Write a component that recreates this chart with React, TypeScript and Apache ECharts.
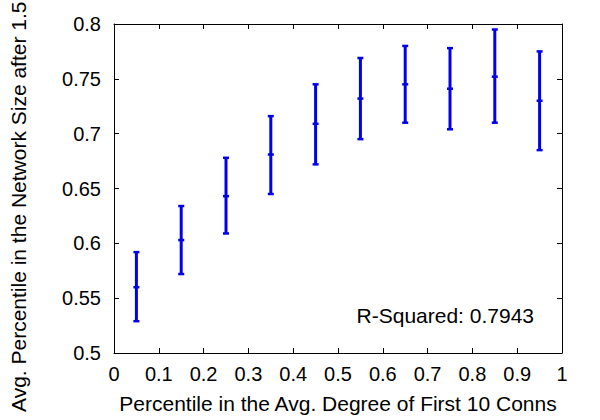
import React, { useEffect, useRef } from 'react';
import * as echarts from 'echarts';

// bin centres on the x axis
const xs = [0.05, 0.15, 0.25, 0.35, 0.45, 0.55, 0.65, 0.75, 0.85, 0.95];
// mean and error bar ends
const means = [0.560, 0.603, 0.643, 0.681, 0.709, 0.732, 0.745, 0.741, 0.752, 0.730];
const lows = [0.529, 0.572, 0.609, 0.645, 0.672, 0.695, 0.710, 0.704, 0.710, 0.685];
const highs = [0.592, 0.634, 0.678, 0.716, 0.745, 0.769, 0.780, 0.778, 0.795, 0.775];

const xName = 'Percentile in the Avg. Degree of First 10 Conns';
const yName = 'Avg. Percentile in the Network Size after 1.5';
const rSquared = 'R-Squared: 0.7943';

const FONT = '"Liberation Sans", Arial, Helvetica, sans-serif';
const BLUE = '#0000ee';

const App: React.FC = () => {
  const chartRef = useRef<HTMLDivElement>(null);

  useEffect(() => {
    if (!chartRef.current) return;
    document.body.style.margin = '0';

    const myChart = echarts.init(chartRef.current, undefined, { renderer: 'svg' });

    const data = xs.map((x, i) => [x, lows[i], means[i], highs[i]]);

    const frameAxis = {
      axisLine: { show: true, onZero: false, lineStyle: { color: '#000', width: 1 } },
      axisTick: { show: true, inside: true, length: 5, lineStyle: { color: '#000', width: 1 } },
      splitLine: { show: false },
    };

    const option: echarts.EChartsOption = {
      animation: false,
      backgroundColor: '#fff',
      textStyle: { fontFamily: FONT, color: '#000' },
      grid: { left: 114, right: 38, top: 24, bottom: 67 },
      xAxis: [
        {
          type: 'value',
          min: 0,
          max: 1,
          interval: 0.1,
          position: 'bottom',
          ...frameAxis,
          axisLabel: { color: '#000', fontSize: 20, fontFamily: FONT, margin: 11 },
          name: xName,
          nameLocation: 'middle',
          nameGap: 40,
          nameTextStyle: { color: '#000', fontSize: 21, fontFamily: FONT },
        },
        {
          type: 'value',
          min: 0,
          max: 1,
          interval: 0.1,
          position: 'top',
          ...frameAxis,
          axisLabel: { show: false },
        },
      ],
      yAxis: [
        {
          type: 'value',
          min: 0.5,
          max: 0.8,
          interval: 0.05,
          position: 'left',
          ...frameAxis,
          axisLabel: { color: '#000', fontSize: 20, fontFamily: FONT, margin: 13 },
        },
        {
          type: 'value',
          min: 0.5,
          max: 0.8,
          interval: 0.05,
          position: 'right',
          ...frameAxis,
          axisLabel: { show: false },
        },
      ],
      graphic: [
        {
          type: 'text',
          x: 18,
          y: 412,
          rotation: Math.PI / 2,
          style: {
            text: yName,
            fontSize: 21,
            fontFamily: FONT,
            fill: '#000',
            textAlign: 'left',
            textVerticalAlign: 'middle',
          },
        },
        {
          type: 'text',
          x: 534,
          y: 315,
          style: {
            text: rSquared,
            fontSize: 21,
            fontFamily: FONT,
            fill: '#000',
            textAlign: 'right',
            textVerticalAlign: 'middle',
          },
        },
      ],
      series: [
        {
          type: 'custom',
          xAxisIndex: 0,
          yAxisIndex: 0,
          data,
          encode: { x: 0, y: [1, 2, 3] },
          renderItem: (params: any, api: any) => {
            const x = api.value(0);
            const lo = api.coord([x, api.value(1)]);
            const mid = api.coord([x, api.value(2)]);
            const hi = api.coord([x, api.value(3)]);
            const half = 3;
            const style = { stroke: BLUE, lineWidth: 3 };
            const capStyle = { stroke: BLUE, lineWidth: 2.5 };
            return {
              type: 'group',
              children: [
                { type: 'line', shape: { x1: hi[0], y1: hi[1], x2: lo[0], y2: lo[1] }, style },
                { type: 'line', shape: { x1: hi[0] - half, y1: hi[1], x2: hi[0] + half, y2: hi[1] }, style: capStyle },
                { type: 'line', shape: { x1: lo[0] - half, y1: lo[1], x2: lo[0] + half, y2: lo[1] }, style: capStyle },
                { type: 'line', shape: { x1: mid[0] - half, y1: mid[1], x2: mid[0] + half, y2: mid[1] }, style: capStyle },
              ],
            };
          },
        },
      ],
    };

    myChart.setOption(option);

    return () => {
      myChart.dispose();
    };
  }, []);

  return <div ref={chartRef} style={{ width: '600px', height: '420px' }} />;
};

export default App;
